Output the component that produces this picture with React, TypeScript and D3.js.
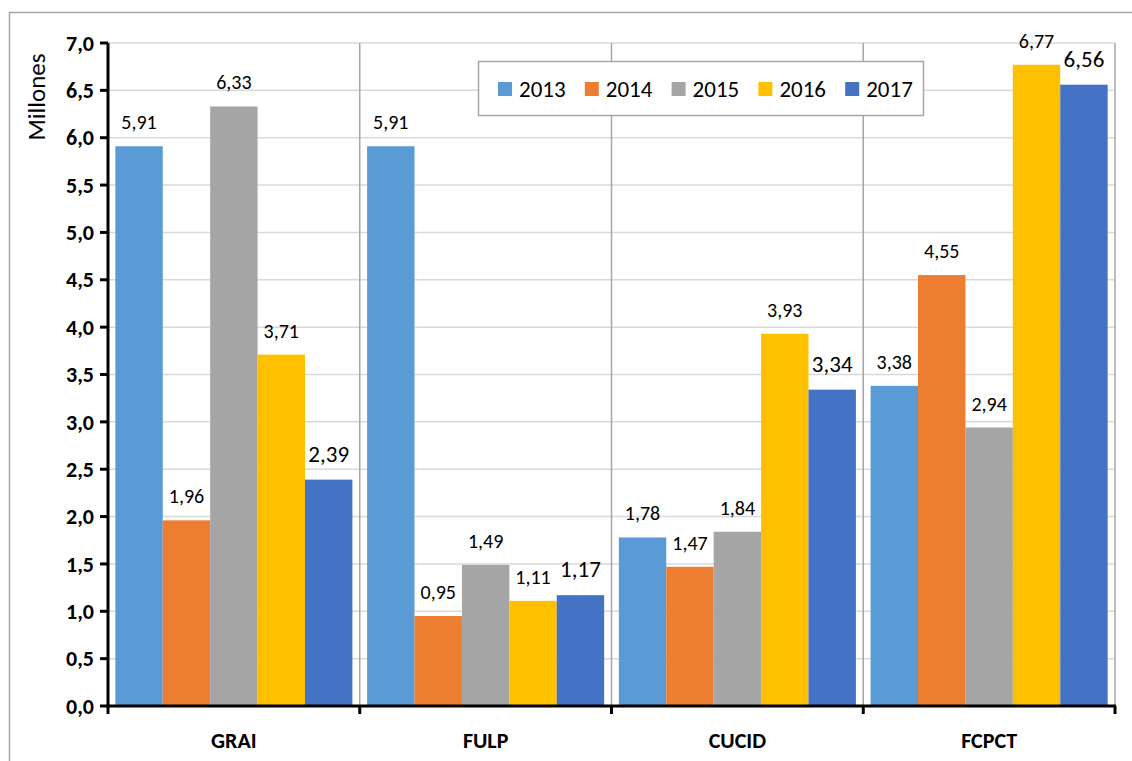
import * as d3 from "d3";
import React from "react";

const categories = ["GRAI", "FULP", "CUCID", "FCPCT"];
const years = ["2013", "2014", "2015", "2016", "2017"];
const colors = ["#5B9BD5", "#ED7D31", "#A5A5A5", "#FFC000", "#4472C4"];

const v2013 = [5.91, 5.91, 1.78, 3.38];
const v2014 = [1.96, 0.95, 1.47, 4.55];
const v2015 = [6.33, 1.49, 1.84, 2.94];
const v2016 = [3.71, 1.11, 3.93, 6.77];
const v2017 = [2.39, 1.17, 3.34, 6.56];
const series = [v2013, v2014, v2015, v2016, v2017];

const yTicks = [0, 0.5, 1, 1.5, 2, 2.5, 3, 3.5, 4, 4.5, 5, 5.5, 6, 6.5, 7];

const W = 1132;
const H = 761;
const font = "Calibri, Carlito, 'Open Sans', sans-serif";
const fmt = (v: number) => v.toFixed(2).replace(".", ",");
const fmtTick = (v: number) => v.toFixed(1).replace(".", ",");

export default function App() {
  const left = 108;
  const right = 1115;
  const top = 43;
  const bottom = 706;

  const x = d3.scaleBand<string>().domain(categories).range([left, right]);
  const xs = d3
    .scaleBand<string>()
    .domain(years)
    .range([0, x.bandwidth()])
    .paddingInner(0)
    .paddingOuter(0.155);
  const y = d3.scaleLinear().domain([0, 7]).range([bottom, top]);

  const bounds = [...categories.map((c) => x(c) as number), right];

  return (
    <svg
      width={W}
      height={H}
      style={{ position: "absolute", left: 0, top: 0, background: "#fff" }}
    >
      {/* outer border */}
      <rect x={9.5} y={12.5} width={1140} height={800} fill="#fff" stroke="#A6A6A6" strokeWidth={1.5} />

      {/* horizontal grid */}
      {yTicks.slice(1).map((t) => (
        <line key={t} x1={left} x2={right} y1={y(t)} y2={y(t)} stroke="#D9D9D9" strokeWidth={1.5} />
      ))}
      {/* vertical grid */}
      {bounds.slice(1).map((b, i) => (
        <line key={i} x1={b} x2={b} y1={top} y2={bottom} stroke="#A6A6A6" strokeWidth={1.5} />
      ))}

      {/* bars */}
      {categories.map((c, ci) =>
        years.map((yr, si) => {
          const v = series[si][ci];
          const bx = (x(c) as number) + (xs(yr) as number);
          return (
            <rect
              key={c + yr}
              x={bx}
              y={y(v)}
              width={xs.bandwidth()}
              height={bottom - y(v)}
              fill={colors[si]}
            />
          );
        })
      )}

      {/* data labels */}
      {categories.map((c, ci) =>
        years.map((yr, si) => {
          const v = series[si][ci];
          const cx = (x(c) as number) + (xs(yr) as number) + xs.bandwidth() / 2;
          const big = si === 4;
          return (
            <text
              key={"l" + c + yr}
              x={cx}
              y={y(v) - (big ? 18 : 17)}
              textAnchor="middle"
              fontFamily={font}
              fontSize={big ? 23 : 20}
              fill="#000"
            >
              {fmt(v)}
            </text>
          );
        })
      )}

      {/* axes */}
      <line x1={left} x2={left} y1={top} y2={bottom + 1.5} stroke="#000" strokeWidth={3} />
      <line x1={left - 1.5} x2={right + 1} y1={bottom} y2={bottom} stroke="#000" strokeWidth={3} />
      {yTicks.map((t) => (
        <g key={"t" + t}>
          <line x1={left - 8} x2={left} y1={y(t)} y2={y(t)} stroke="#000" strokeWidth={3} />
          <text
            x={left - 14}
            y={y(t)}
            dy="0.35em"
            textAnchor="end"
            fontFamily={font}
            fontWeight="bold"
            fontSize={22}
          >
            {fmtTick(t)}
          </text>
        </g>
      ))}
      {bounds.map((b, i) => (
        <line key={"xt" + i} x1={b} x2={b} y1={bottom} y2={bottom + 8} stroke="#000" strokeWidth={3} />
      ))}
      {categories.map((c) => (
        <text
          key={"c" + c}
          x={(x(c) as number) + x.bandwidth() / 2}
          y={748}
          textAnchor="middle"
          fontFamily={font}
          fontWeight="bold"
          fontSize={22}
        >
          {c}
        </text>
      ))}

      {/* y title */}
      <text
        transform="translate(45,97) rotate(-90)"
        textAnchor="middle"
        fontFamily={font}
        fontSize={25}
      >
        Millones
      </text>

      {/* legend */}
      <rect x={478.5} y={61.5} width={445} height={54} fill="#fff" stroke="#A6A6A6" strokeWidth={1.5} />
      {years.map((yr, i) => (
        <g key={"lg" + yr} transform={`translate(${498 + i * 86.8},89)`}>
          <rect x={0} y={-7} width={14} height={14} fill={colors[i]} />
          <text x={21} y={0} dy="0.35em" fontFamily={font} fontSize={23}>
            {yr}
          </text>
        </g>
      ))}
    </svg>
  );
}
